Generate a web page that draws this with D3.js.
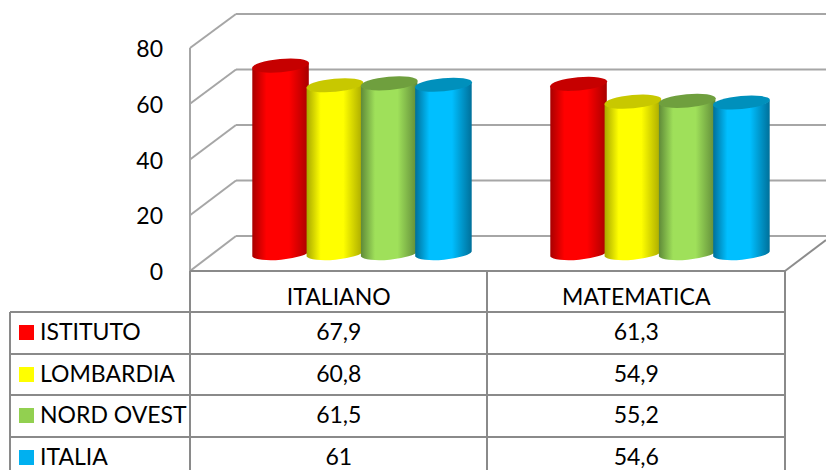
<!DOCTYPE html>
<html><head><meta charset="utf-8">
<script src="https://cdn.jsdelivr.net/npm/d3@7/dist/d3.min.js"></script>
<style>html,body{margin:0;padding:0;background:#fff}svg{display:block}text{font-family:Lato,"Open Sans",sans-serif;fill:#000}</style>
</head><body><svg id="c" width="826" height="470"></svg>
<script>
const categories = ["ITALIANO","MATEMATICA"];
const seriesNames = ["ISTITUTO","LOMBARDIA","NORD OVEST","ITALIA"];
const istituto = [67.9,61.3];
const lombardia = [60.8,54.9];
const nordOvest = [61.5,55.2];
const italia = [61,54.6];
const tableLabels = [["67,9","61,3"],["60,8","54,9"],["61,5","55,2"],["61","54,6"]];
const yTicks = [0,20,40,60,80];
const seriesValues = [istituto,lombardia,nordOvest,italia];
const colors = ["#ff0000","#ffff00","#92d050","#00b0f0"];
const centerColors = ["#ff0000","#ffff00","#9fe05a","#00bfff"];
const edgeColors = ["#a80000","#a8a800","#5f8a38","#00709a"];
const capColors = ["#c60000","#c8c800","#6f9f3e","#0090bc"];

const svg = d3.select("#c");
const wall = "#a6a6a6", grid = "#8c8c8c";
const yFront = d3.scaleLinear().domain([0,80]).range([271,48]);
const yBack = d3.scaleLinear().domain([0,80]).range([236,14]);
const yBar = d3.scaleLinear().domain([0,80]).range([254,32]);
const xTable = d3.scaleBand().domain(categories).range([190,785]);
const groupStart = d3.scaleOrdinal().domain(categories).range([252.3,550.3]);

const defs = svg.append("defs");
seriesNames.forEach((s,i)=>{
  const g = defs.append("linearGradient").attr("id","g"+i).attr("x1",0).attr("x2",1).attr("y1",0).attr("y2",0);
  [[0,edgeColors[i]],[0.25,centerColors[i]],[0.65,centerColors[i]],[1,edgeColors[i]]]
    .forEach(d=>g.append("stop").attr("offset",d[0]).attr("stop-color",d[1]));
});

svg.selectAll("line.back").data(yTicks).join("line").attr("class","back")
  .attr("x1",236).attr("x2",826).attr("y1",d=>yBack(d)).attr("y2",d=>yBack(d))
  .attr("stroke",wall).attr("stroke-width",2);
svg.selectAll("line.side").data(yTicks).join("line").attr("class","side")
  .attr("x1",190).attr("x2",236).attr("y1",d=>yFront(d)).attr("y2",d=>yBack(d))
  .attr("stroke",wall).attr("stroke-width",2);
svg.append("line").attr("x1",785).attr("y1",271).attr("x2",826).attr("y2",240).attr("stroke",grid).attr("stroke-width",2);
svg.append("line").attr("x1",190).attr("y1",48).attr("x2",190).attr("y2",271).attr("stroke",wall).attr("stroke-width",2);

svg.append("g").selectAll("text").data(yTicks).join("text")
  .attr("x",163).attr("y",d=>yFront(d)+9).attr("text-anchor","end").attr("font-size",23).text(d=>d);

const W = 56.5, RX = 28.6, RY = 6.6, DY = 2.6, TILT = -5.2;
const step = 54.3;
categories.forEach((cat,c)=>{
  const g = svg.append("g");
  seriesNames.forEach((s,i)=>{
    const v = seriesValues[i][c];
    const cx = groupStart(cat) + W/2 + i*step;
    const yT = yBar(v), yB = yBar(0);
    const L = cx-W/2, R = cx+W/2;
    g.append("path")
      .attr("d",`M${L},${yT+DY}L${L},${yB+DY}A${RX},${RY} ${TILT} 0 0 ${R},${yB-DY}L${R},${yT-DY}A${RX},${RY} ${TILT} 0 1 ${L},${yT+DY}Z`)
      .attr("fill",`url(#g${i})`);
    g.append("ellipse").attr("cx",0).attr("cy",0).attr("rx",RX).attr("ry",RY)
      .attr("transform",`translate(${cx},${yT}) rotate(${TILT})`)
      .attr("fill",capColors[i]);
  });
});

const rowY = [271,312,354,395,437];
const rowScale = d3.scaleOrdinal().domain(seriesNames).range(rowY.slice(1));
const tcol = "#8a8a8a";
const hl = (x1,x2,y)=>svg.append("line").attr("x1",x1).attr("x2",x2).attr("y1",y).attr("y2",y).attr("stroke",tcol).attr("stroke-width",2);
const vl = (x,y1,y2)=>svg.append("line").attr("x1",x).attr("x2",x).attr("y1",y1).attr("y2",y2).attr("stroke",tcol).attr("stroke-width",2);
hl(190,785,271);
rowY.slice(1).forEach(y=>hl(10,785,y));
vl(10,312,470); vl(190,271,470); vl(487,271,470); vl(785,271,470);

svg.selectAll("text.cat").data(categories).join("text").attr("class","cat")
  .attr("x",d=>xTable(d)+xTable.bandwidth()/2).attr("y",305).attr("text-anchor","middle").attr("font-size",23).text(d=>d);
seriesNames.forEach((s,i)=>{
  const y = rowScale(s);
  svg.append("rect").attr("x",19).attr("y",y+13).attr("width",15).attr("height",15).attr("fill",colors[i]);
  svg.append("text").attr("x",40).attr("y",y+27.5).attr("font-size",23).text(s);
  categories.forEach((cat,c)=>{
    svg.append("text").attr("x",xTable(cat)+xTable.bandwidth()/2).attr("y",y+28).attr("text-anchor","middle").attr("font-size",23).text(tableLabels[i][c]);
  });
});
</script></body></html>
